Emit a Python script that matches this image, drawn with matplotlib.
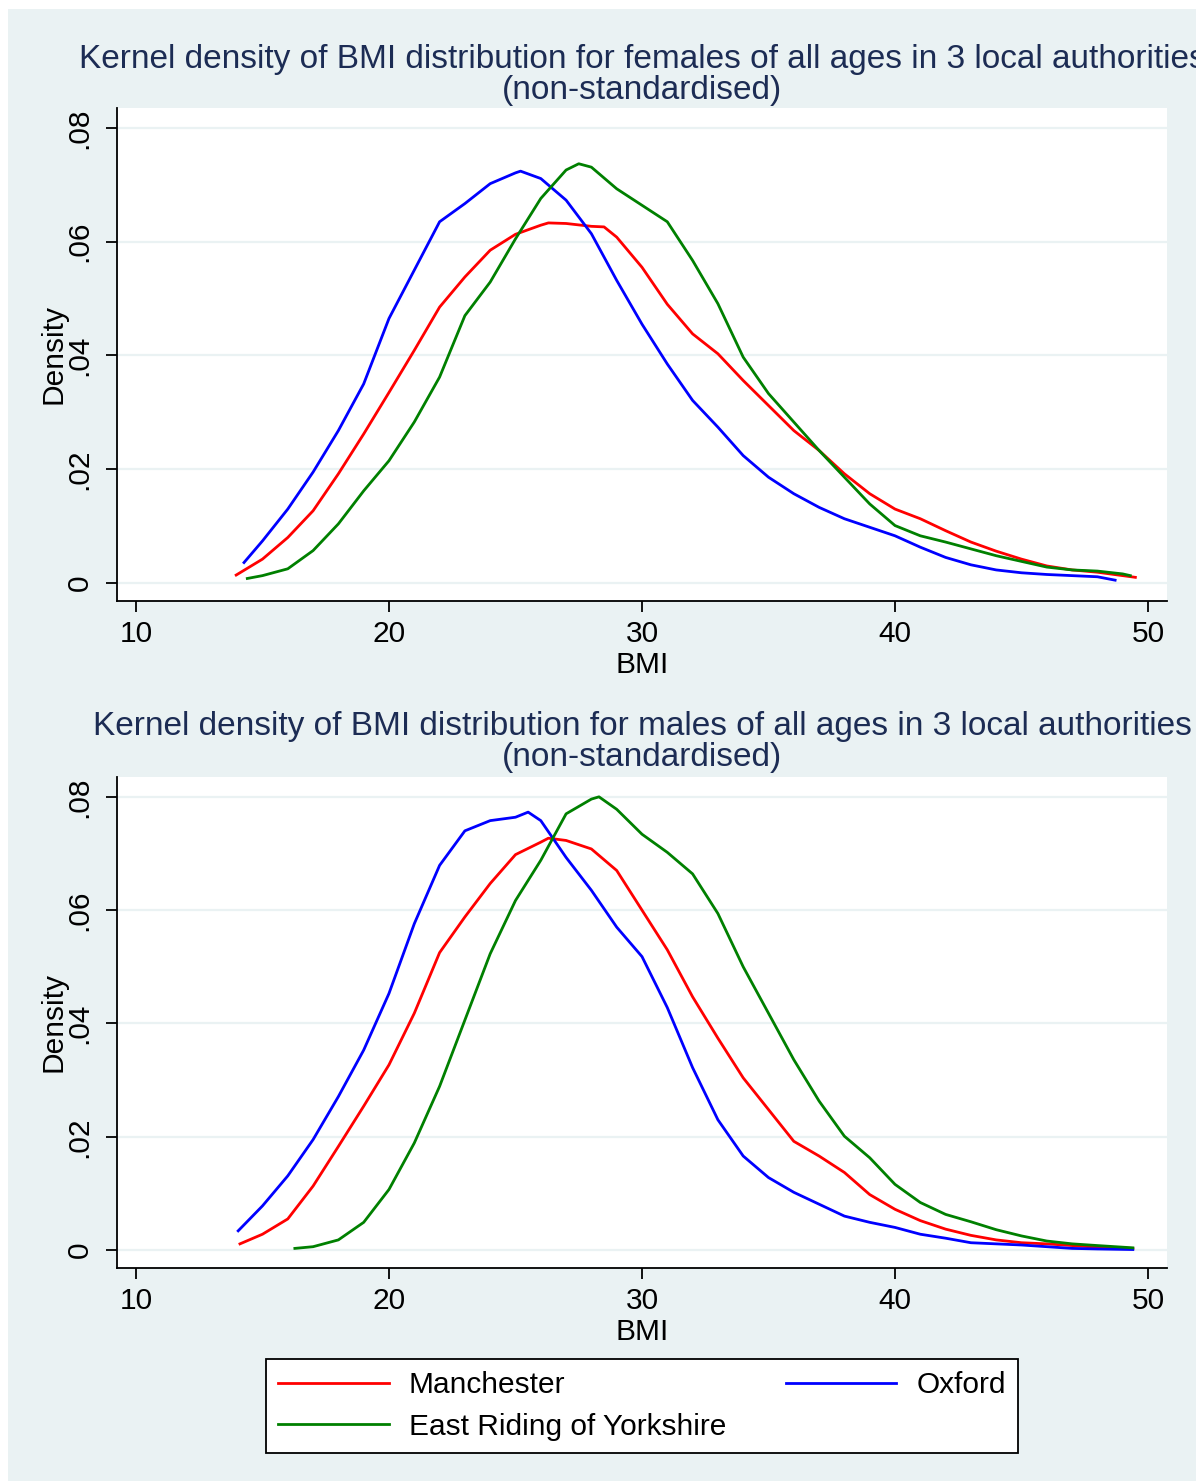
import matplotlib
matplotlib.use("Agg")
import matplotlib.pyplot as plt
from matplotlib.patches import Rectangle
from matplotlib.transforms import Bbox, TransformedBbox

plt.rcParams['font.family'] = ['Liberation Sans', 'DejaVu Sans']

# ---- data (BMI, density) ----
f_man_bmi = [13.96, 15, 16, 17, 18, 19, 20, 21, 22, 23, 24, 25, 26, 26.3, 27, 28, 28.5, 29,
             30, 31, 32, 33, 34, 35, 36, 37, 38, 39, 40, 41, 42, 43, 44, 45, 46, 47, 48, 49, 49.5]
f_man = [0.0014, 0.0042, 0.0080, 0.0127, 0.0192, 0.0262, 0.0335, 0.0409, 0.0485, 0.0538, 0.0585,
         0.0613, 0.0629, 0.0633, 0.0632, 0.0627, 0.0626, 0.0608, 0.0555, 0.0490, 0.0438, 0.0403,
         0.0356, 0.0312, 0.0268, 0.0233, 0.0192, 0.0157, 0.0130, 0.0113, 0.0092, 0.0072, 0.0056,
         0.0042, 0.0030, 0.0023, 0.0019, 0.0013, 0.0010]

f_oxf_bmi = [14.27, 15, 16, 17, 18, 19, 20, 21, 22, 23, 24, 25, 25.2, 26, 27, 28, 29, 30, 31, 32,
             33, 34, 35, 36, 37, 38, 39, 40, 41, 42, 43, 44, 45, 46, 47, 48, 48.7]
f_oxf = [0.0036, 0.0074, 0.0130, 0.0195, 0.0268, 0.0350, 0.0465, 0.0550, 0.0635, 0.0667, 0.0702,
         0.0721, 0.0724, 0.0711, 0.0673, 0.0614, 0.0532, 0.0455, 0.0385, 0.0321, 0.0274, 0.0224,
         0.0186, 0.0157, 0.0133, 0.0113, 0.0098, 0.0083, 0.0063, 0.0045, 0.0032, 0.0023, 0.0018,
         0.0015, 0.0013, 0.0011, 0.0005]

f_ery_bmi = [14.4, 15, 16, 17, 18, 19, 20, 21, 22, 23, 24, 25, 26, 27, 27.5, 28, 29, 30, 31, 32,
             33, 34, 35, 36, 37, 38, 39, 40, 41, 42, 43, 44, 45, 46, 47, 48, 49, 49.3]
f_ery = [0.0008, 0.0013, 0.0025, 0.0057, 0.0104, 0.0162, 0.0215, 0.0283, 0.0362, 0.0470, 0.0529,
         0.0605, 0.0676, 0.0726, 0.0737, 0.0731, 0.0693, 0.0664, 0.0635, 0.0567, 0.0491, 0.0397,
         0.0333, 0.0283, 0.0233, 0.0186, 0.0139, 0.0101, 0.0083, 0.0072, 0.0060, 0.0048, 0.0038,
         0.0028, 0.0023, 0.0021, 0.0016, 0.0013]

m_man_bmi = [14.11, 15, 16, 17, 18, 19, 20, 21, 22, 23, 24, 25, 26, 26.3, 27, 28, 29, 30, 31, 32,
             33, 34, 35, 36, 37, 38, 39, 40, 41, 42, 43, 44, 45, 46, 47, 48, 49.4]
m_man = [0.0011, 0.0028, 0.0055, 0.0113, 0.0183, 0.0254, 0.0327, 0.0418, 0.0525, 0.0588, 0.0647,
         0.0698, 0.0720, 0.0727, 0.0723, 0.0708, 0.0670, 0.0600, 0.0530, 0.0447, 0.0374, 0.0304,
         0.0248, 0.0192, 0.0166, 0.0137, 0.0098, 0.0072, 0.0052, 0.0037, 0.0026, 0.0018, 0.0013,
         0.0011, 0.0008, 0.0005, 0.0003]

m_oxf_bmi = [14.04, 15, 16, 17, 18, 19, 20, 21, 22, 23, 24, 25, 25.5, 26, 27, 28, 29, 30, 31, 32,
             33, 34, 35, 36, 37, 38, 39, 40, 41, 42, 43, 44, 45, 46, 47, 48, 49.4]
m_oxf = [0.0034, 0.0078, 0.0131, 0.0195, 0.0271, 0.0353, 0.0453, 0.0576, 0.0679, 0.0740, 0.0758,
         0.0764, 0.0773, 0.0758, 0.0693, 0.0635, 0.0570, 0.0518, 0.0428, 0.0322, 0.0230, 0.0166,
         0.0128, 0.0102, 0.0081, 0.0060, 0.0049, 0.0040, 0.0028, 0.0021, 0.0013, 0.0011, 0.0009,
         0.0006, 0.0003, 0.0002, 0.0001]

m_ery_bmi = [16.28, 17, 18, 19, 20, 21, 22, 23, 24, 25, 26, 27, 28, 28.3, 29, 30, 31, 32, 33, 34,
             35, 36, 37, 38, 39, 40, 41, 42, 43, 44, 45, 46, 47, 48, 49.4]
m_ery = [0.0003, 0.0006, 0.0018, 0.0049, 0.0107, 0.0189, 0.0289, 0.0406, 0.0523, 0.0617, 0.0688,
         0.0770, 0.0796, 0.0800, 0.0778, 0.0734, 0.0702, 0.0664, 0.0594, 0.0500, 0.0418, 0.0336,
         0.0263, 0.0201, 0.0163, 0.0116, 0.0084, 0.0063, 0.0050, 0.0036, 0.0025, 0.0016, 0.0011,
         0.0008, 0.0004]

x_ticks = [10, 20, 30, 40, 50]
y_ticks = [0, 0.02, 0.04, 0.06, 0.08]
y_ticklabels = ["0", ".02", ".04", ".06", ".08"]
series_names = ["Manchester", "Oxford", "East Riding of Yorkshire"]
series_colors = ["#FF0000", "#0000FF", "#008000"]
titles = ["Kernel density of BMI distribution for females of all ages in 3 local authorities\n(non-standardised)",
          "Kernel density of BMI distribution for males of all ages in 3 local authorities\n(non-standardised)"]

W, H = 1203, 1481
BG = "#EAF2F3"
TITLE_C = "#1C2C54"
FS = 21.5

fig = plt.figure(figsize=(W / 100, H / 100), dpi=100)
fig.patch.set_facecolor("white")
bg = Rectangle((8 / W, 0), (1196 - 8) / W, 1 - 9 / H, transform=fig.transFigure,
               facecolor=BG, edgecolor="none", zorder=-10)
fig.patches.append(bg)


def fx(px):
    return px / W


def fy(py):
    return 1 - py / H


ax1 = fig.add_axes([fx(117), fy(601), fx(1167) - fx(117), fy(108) - fy(601)])
ax2 = fig.add_axes([fx(117), fy(1268), fx(1167) - fx(117), fy(777) - fy(1268)])

panels = [
    (ax1, [(f_man_bmi, f_man), (f_oxf_bmi, f_oxf), (f_ery_bmi, f_ery)]),
    (ax2, [(m_man_bmi, m_man), (m_oxf_bmi, m_oxf), (m_ery_bmi, m_ery)]),
]

handles = []
for ax, series in panels:
    ax.set_facecolor("white")
    for (xs, ys), name, col in zip(series, series_names, series_colors):
        ln, = ax.plot(xs, ys, color=col, lw=2.0, label=name, zorder=3)
        if ax is ax1:
            handles.append(ln)
    ax.set_xlim(9.25, 50.75)
    ax.set_ylim(-0.00316, 0.0835)
    ax.set_xticks(x_ticks)
    ax.set_xticklabels([str(t) for t in x_ticks])
    ax.set_yticks(y_ticks)
    ax.set_yticklabels(y_ticklabels)
    ax.grid(axis="y", color=BG, lw=1.6, zorder=0)
    ax.set_axisbelow(True)
    for s in ["top", "right"]:
        ax.spines[s].set_visible(False)
    for s in ["left", "bottom"]:
        ax.spines[s].set_linewidth(1.3)
        ax.spines[s].set_color("black")
    ax.tick_params(axis="both", direction="out", length=8, width=1.3, labelsize=FS, colors="black")
    ax.tick_params(axis="x", pad=6)
    ax.tick_params(axis="y", pad=9)
    for lab in ax.get_yticklabels():
        lab.set_rotation(90)
        lab.set_va("center")
    ax.set_xlabel("BMI", fontsize=FS, labelpad=2)
    ax.set_ylabel("Density", fontsize=FS)
    ax.yaxis.set_label_coords(-0.047, 0.5)

clip = TransformedBbox(Bbox([[8 / W, 0], [1196 / W, 1]]), fig.transFigure)
for py, t in zip([75, 742], titles):
    txt = fig.text(fx(642), fy(py), t, ha="center", va="center", fontsize=24,
                   color=TITLE_C, linespacing=1.0)
    txt.set_clip_box(clip)
    txt.set_clip_on(True)

order = [0, 2, 1]
leg = fig.legend([handles[i] for i in order], [series_names[i] for i in order],
                 loc="center", bbox_to_anchor=(fx(642), fy(1406)), ncol=2, fontsize=FS,
                 frameon=True, fancybox=False, framealpha=1, edgecolor="black",
                 handlelength=3.7, handletextpad=0.67, columnspacing=2.0,
                 borderpad=0.4, labelspacing=0.45)
leg.get_frame().set_linewidth(1.3)

fig.savefig("out.png", dpi=100, facecolor=fig.get_facecolor())
